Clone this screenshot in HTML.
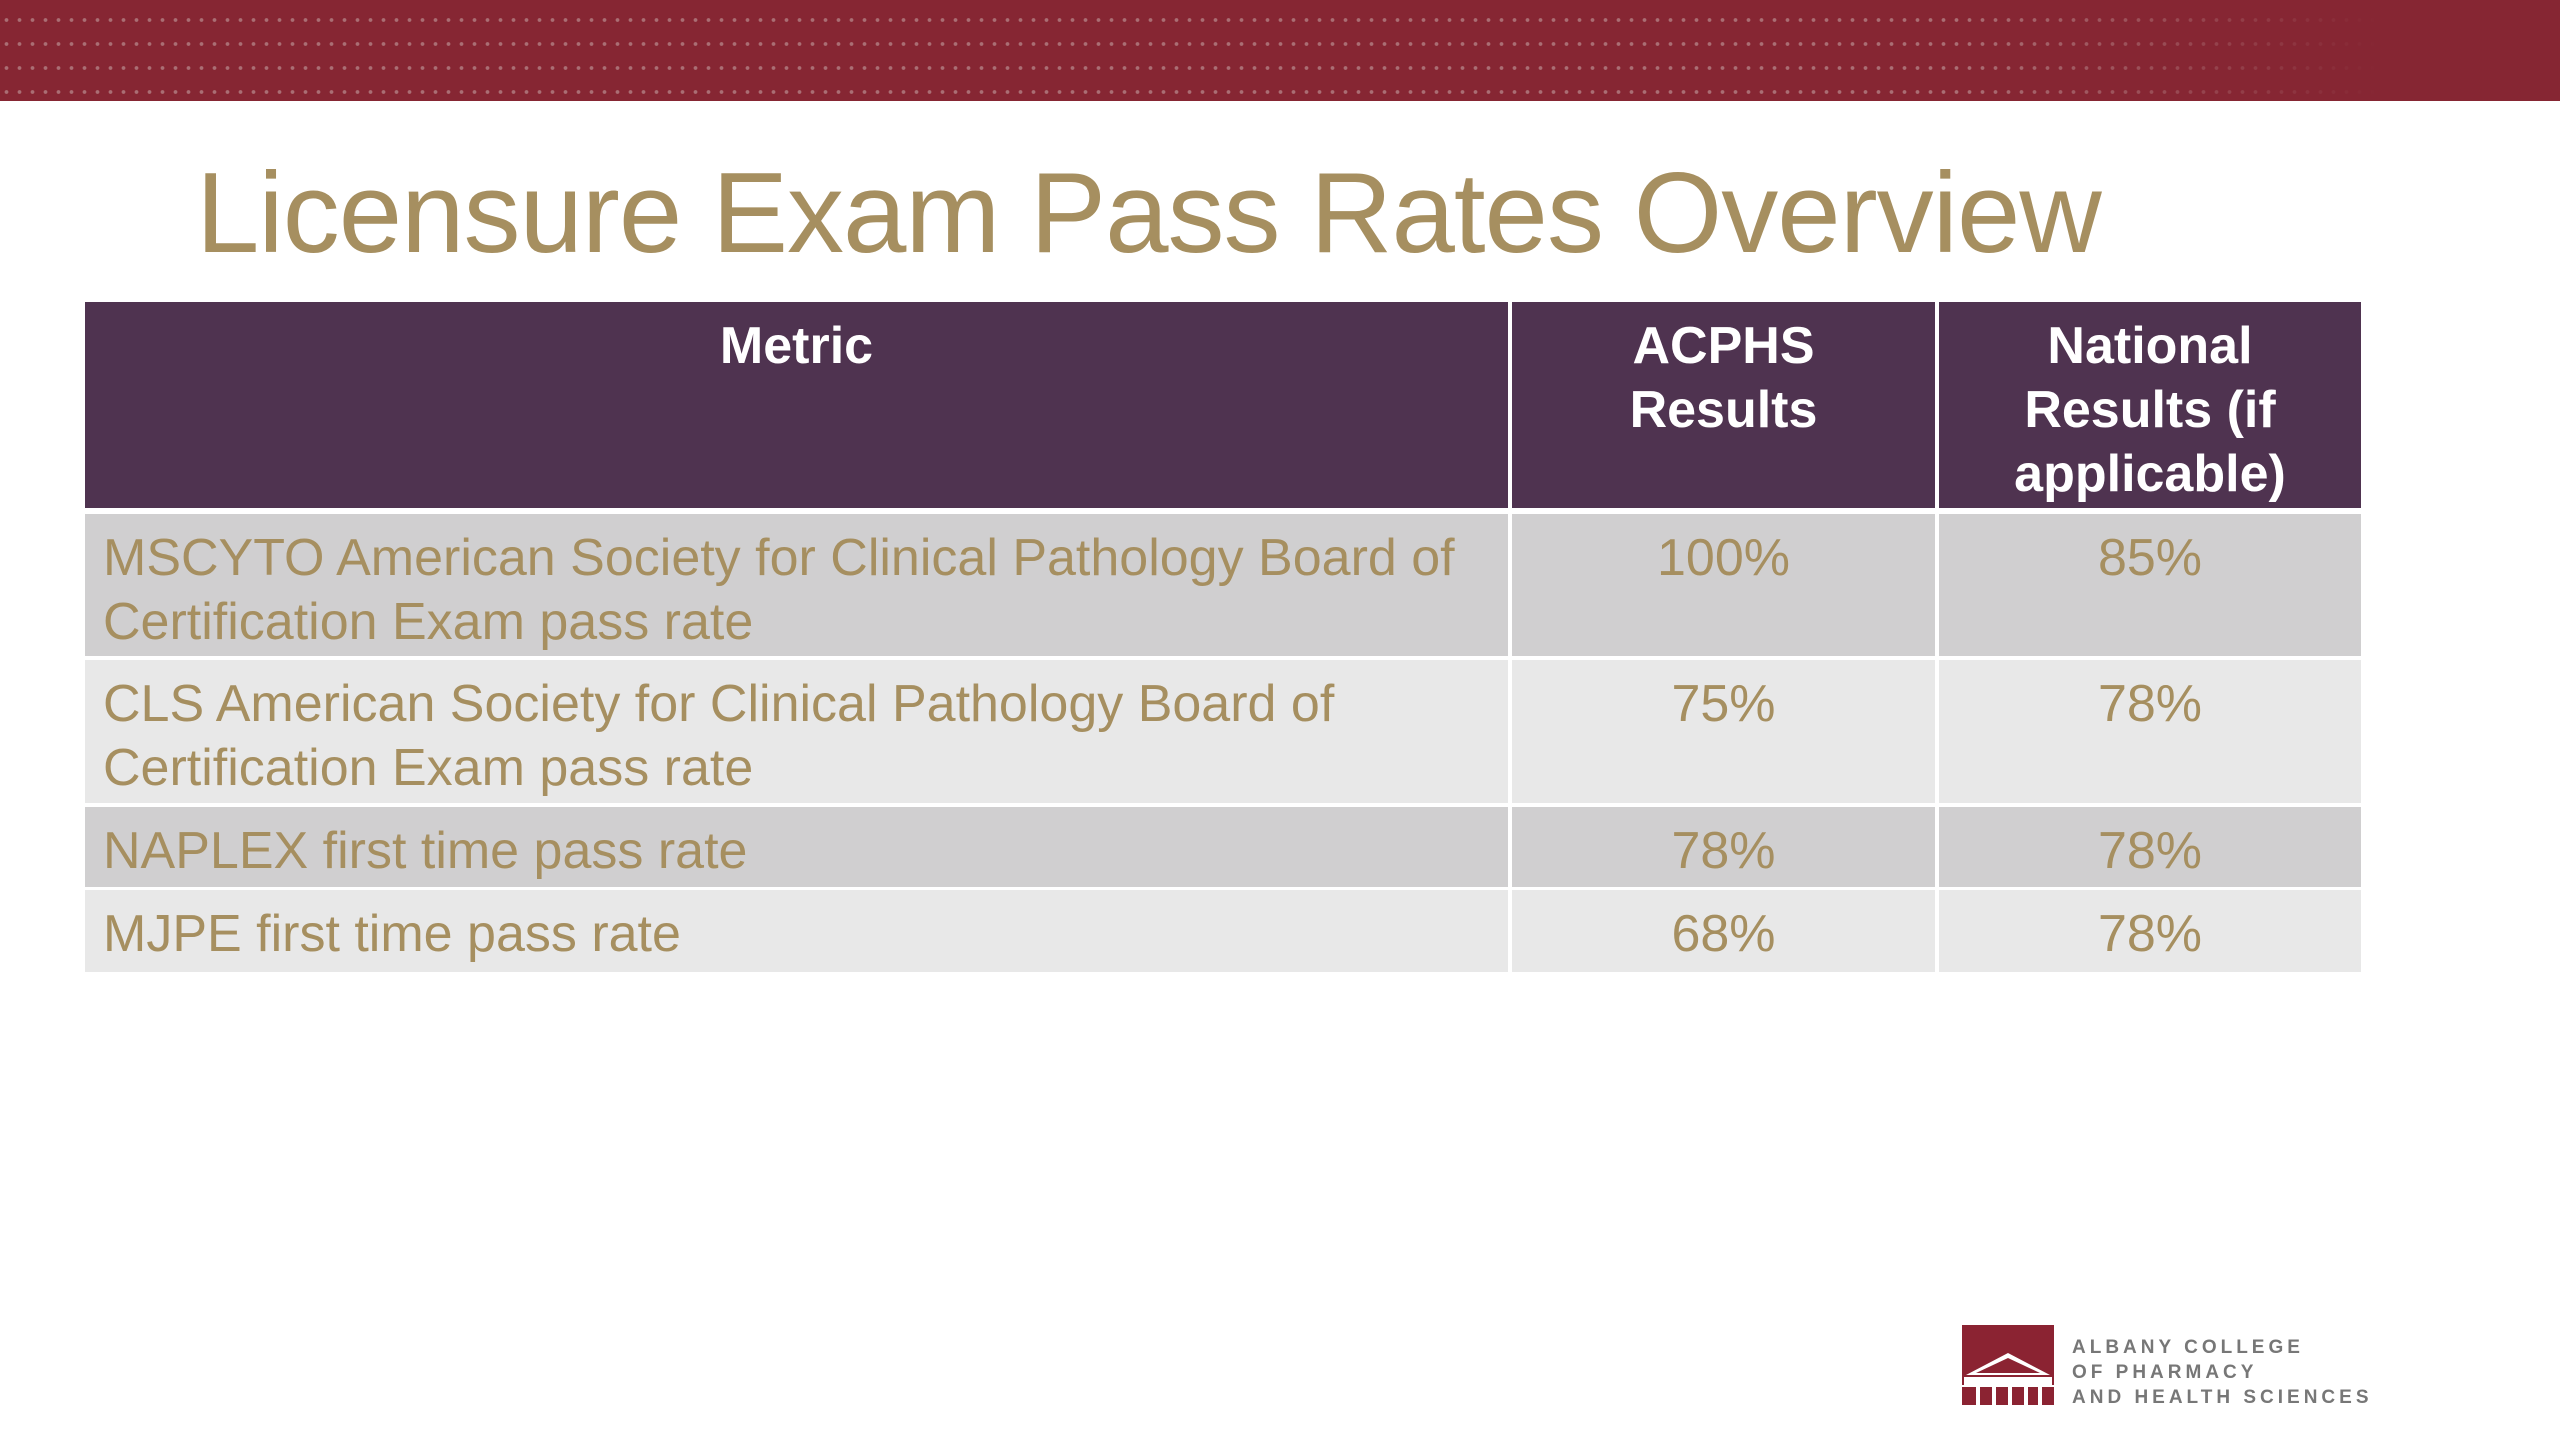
<!DOCTYPE html>
<html><head><meta charset="utf-8"><style>
html,body{margin:0;padding:0}
body{width:2560px;height:1440px;position:relative;background:#fff;overflow:hidden;font-family:"Liberation Sans","DejaVu Sans",sans-serif}
.banner{position:absolute;left:0;top:0;width:2560px;height:101px;background:#862633;
background-image:radial-gradient(circle,rgba(200,170,170,.55) 1.6px,transparent 2.2px);background-size:13px 24px;background-position:0 8px}
.banner::after{content:"";position:absolute;right:0;top:0;width:600px;height:101px;background:linear-gradient(90deg,rgba(134,38,51,0),#862633 70%)}
.title{position:absolute;left:196px;top:148px;font-size:114px;color:#a68f60;white-space:nowrap;letter-spacing:-1px}
.cell{position:absolute;box-sizing:border-box;padding:12px 18px;font-size:52px;line-height:64px}
.h{background:#4f3350;color:#fff;font-weight:bold;text-align:center}
.o{background:#d0cfd0;color:#a68f60}
.e{background:#e8e8e8;color:#a68f60}
.c{text-align:center}
.logo-text{position:absolute;left:2072px;font-size:19px;font-weight:bold;color:#777;letter-spacing:4px;white-space:nowrap}
</style></head><body>
<div class="banner"></div>
<div class="title">Licensure Exam Pass Rates Overview</div>

<div>
<div class="cell h" style="left:85px;top:302px;width:1423px;height:206px">Metric</div>
<div class="cell h" style="left:1512px;top:302px;width:423px;height:206px">ACPHS<br>Results</div>
<div class="cell h" style="left:1939px;top:302px;width:422px;height:206px">National Results (if applicable)</div>

<div class="cell o" style="left:85px;top:514px;width:1423px;height:142px">MSCYTO American Society for Clinical Pathology Board of Certification Exam pass rate</div>
<div class="cell o c" style="left:1512px;top:514px;width:423px;height:142px">100%</div>
<div class="cell o c" style="left:1939px;top:514px;width:422px;height:142px">85%</div>

<div class="cell e" style="left:85px;top:660px;width:1423px;height:143px">CLS American Society for Clinical Pathology Board of Certification Exam pass rate</div>
<div class="cell e c" style="left:1512px;top:660px;width:423px;height:143px">75%</div>
<div class="cell e c" style="left:1939px;top:660px;width:422px;height:143px">78%</div>

<div class="cell o" style="left:85px;top:807px;width:1423px;height:80px">NAPLEX first time pass rate</div>
<div class="cell o c" style="left:1512px;top:807px;width:423px;height:80px">78%</div>
<div class="cell o c" style="left:1939px;top:807px;width:422px;height:80px">78%</div>

<div class="cell e" style="left:85px;top:890px;width:1423px;height:82px">MJPE first time pass rate</div>
<div class="cell e c" style="left:1512px;top:890px;width:423px;height:82px">68%</div>
<div class="cell e c" style="left:1939px;top:890px;width:422px;height:82px">78%</div>
</div>

<svg style="position:absolute;left:1962px;top:1325px" width="92" height="80">
<rect x="0" y="0" width="92" height="80" fill="#8b2332"/>
<polygon points="4,50 46,28 88,50" fill="#fff"/>
<polygon points="14,48 46,33 78,48" fill="#8b2332"/>
<rect x="2" y="52" width="88" height="8" fill="#fff"/>
<rect x="0" y="60" width="92" height="2" fill="#fff"/>
<rect x="14" y="62" width="4" height="18" fill="#fff"/><rect x="30" y="62" width="4" height="18" fill="#fff"/>
<rect x="46" y="62" width="4" height="18" fill="#fff"/><rect x="62" y="62" width="4" height="18" fill="#fff"/>
<rect x="76" y="62" width="4" height="18" fill="#fff"/>
</svg>
<div class="logo-text" style="top:1337px">ALBANY COLLEGE</div>
<div class="logo-text" style="top:1362px">OF PHARMACY</div>
<div class="logo-text" style="top:1387px">AND HEALTH SCIENCES</div>
</body></html>
